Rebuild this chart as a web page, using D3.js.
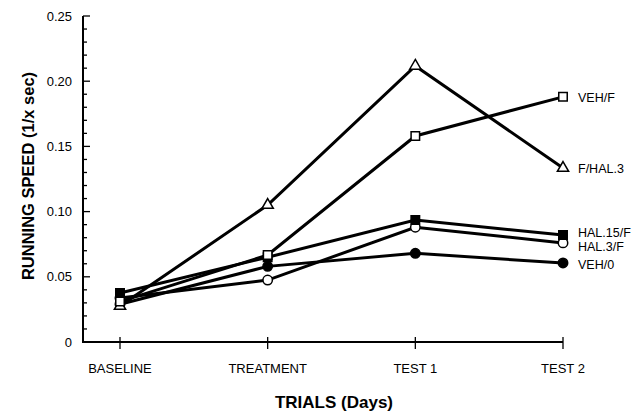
<!DOCTYPE html>
<html>
<head>
<meta charset="utf-8">
<script src="https://cdn.jsdelivr.net/npm/d3@7"></script>
<style>
  body { margin: 0; background: #fff; }
  svg { font-family: "Liberation Sans", Arial, sans-serif; }
</style>
</head>
<body>
<script>
/* Data */
var trials = ["BASELINE", "TREATMENT", "TEST 1", "TEST 2"];
var yTicks = [0, 0.05, 0.10, 0.15, 0.20, 0.25];
var vehF = [0.031, 0.0667, 0.158, 0.188];
var fHal3 = [0.0276, 0.105, 0.2117, 0.1334];
var hal15F = [0.0376, 0.065, 0.0936, 0.082];
var hal3F = [0.0337, 0.0475, 0.088, 0.076];
var veh0 = [0.029, 0.058, 0.068, 0.0606];

var series = [
  {name: "VEH/0", values: veh0, shape: "circle", filled: true},
  {name: "HAL.3/F", values: hal3F, shape: "circle", filled: false},
  {name: "HAL.15/F", values: hal15F, shape: "square", filled: true},
  {name: "F/HAL.3", values: fHal3, shape: "triangle", filled: false},
  {name: "VEH/F", values: vehF, shape: "square", filled: false}
];
var labelY = {"VEH/F": 0, "F/HAL.3": 0, "HAL.15/F": -3, "HAL.3/F": 3, "VEH/0": 1};

const WIDTH = 638, HEIGHT = 415;
var x = d3.scalePoint().domain(trials).range([120, 563]);
var y = d3.scaleLinear().domain([0, 0.25]).range([342, 16]);
var AXIS_X = 83;

var svg = d3.select("body").append("svg")
    .attr("width", WIDTH)
    .attr("height", HEIGHT);

// y axis: ticks point inward
var yAxis = svg.append("g").attr("transform", "translate(" + AXIS_X + ",0)");
yAxis.append("line")
    .attr("y1", y(0)).attr("y2", y(0.25))
    .attr("stroke", "#000").attr("stroke-width", 2);
yAxis.selectAll(".minor")
    .data(d3.range(0, 26).map(d => d / 100))
    .enter().append("line")
    .attr("x1", 0).attr("x2", (d, i) => i % 5 == 0 ? 7 : 4)
    .attr("y1", d => y(d)).attr("y2", d => y(d))
    .attr("stroke", "#000").attr("stroke-width", 1.3);
yAxis.selectAll(".lbl")
    .data(yTicks)
    .enter().append("text")
    .attr("x", -11).attr("y", d => y(d) + 4.5)
    .attr("text-anchor", "end")
    .attr("font-size", 13)
    .text(d => d == 0 ? "0" : d3.format(".2f")(d));

// x axis
var xAxis = svg.append("g");
xAxis.append("line")
    .attr("x1", AXIS_X - 1).attr("x2", x("TEST 2"))
    .attr("y1", y(0)).attr("y2", y(0))
    .attr("stroke", "#000").attr("stroke-width", 2);
xAxis.selectAll(".tick")
    .data(trials)
    .enter().append("line")
    .attr("x1", d => x(d)).attr("x2", d => x(d))
    .attr("y1", y(0) - 5).attr("y2", y(0) + 7)
    .attr("stroke", "#000").attr("stroke-width", 1.3);
xAxis.selectAll(".lbl")
    .data(trials)
    .enter().append("text")
    .attr("x", d => x(d)).attr("y", 373)
    .attr("text-anchor", "middle")
    .attr("font-size", 13)
    .text(d => d);

svg.append("text")
    .attr("x", 334).attr("y", 408)
    .attr("text-anchor", "middle")
    .attr("font-size", 17).attr("font-weight", "bold")
    .text("TRIALS (Days)");

svg.append("text")
    .attr("transform", "translate(34,176) rotate(-90)")
    .attr("text-anchor", "middle")
    .attr("font-size", 16.5).attr("font-weight", "bold")
    .text("RUNNING SPEED (1/x sec)");

// lines
var line = d3.line()
    .x((d, i) => x(trials[i]))
    .y(d => y(d));

svg.selectAll(".series")
    .data(series)
    .enter().append("path")
    .attr("d", d => line(d.values))
    .attr("fill", "none")
    .attr("stroke", "#000")
    .attr("stroke-width", 3);

// markers
var sym = {
  circle: d3.symbol().type(d3.symbolCircle).size(70),
  square: d3.symbol().type(d3.symbolSquare).size(72),
  triangle: d3.symbol().type(d3.symbolTriangle).size(55)
};
series.forEach(s => {
  svg.selectAll(null)
      .data(s.values)
      .enter().append("path")
      .attr("transform", (d, i) => "translate(" + x(trials[i]) + "," + y(d) + ")")
      .attr("d", sym[s.shape]())
      .attr("fill", s.filled ? "#000" : "#fff")
      .attr("stroke", "#000")
      .attr("stroke-width", 1.5);
});

// series labels at right
svg.selectAll(".name")
    .data(series)
    .enter().append("text")
    .attr("x", 578)
    .attr("y", d => y(d.values[3]) + 5 + labelY[d.name])
    .attr("font-size", 12.5)
    .text(d => d.name);
</script>
</body>
</html>
